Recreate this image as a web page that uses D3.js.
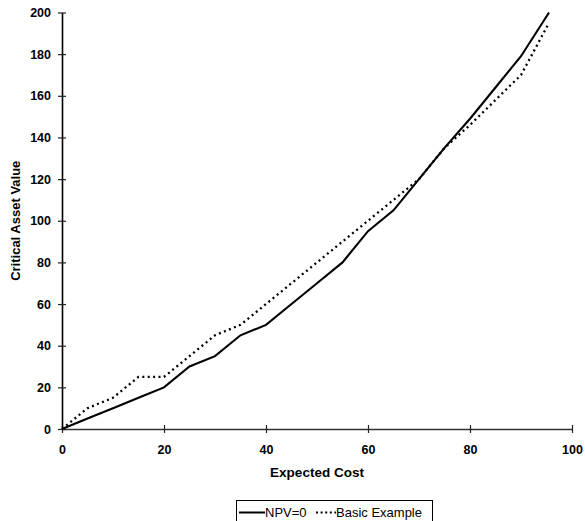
<!DOCTYPE html>
<html>
<head>
<meta charset="utf-8">
<script src="https://cdn.jsdelivr.net/npm/d3@7"></script>
<style>
  body { margin: 0; background: #fff; }
  svg { display: block; font-family: "Liberation Sans", Arial, sans-serif; }
  .tick text { font-size: 12.5px; font-weight: bold; fill: #000; }
</style>
</head>
<body>
<div id="chart"></div>
<script>
// expected cost (x) shared by both series
const expectedCost = [0, 5, 10, 15, 20, 25, 30, 35, 40, 45, 50, 55, 60, 65, 70, 75, 80, 85, 90, 95.5];
// critical asset value
const npvZero = [0, 5, 10, 15, 20, 30, 35, 45, 50, 60, 70, 80, 95, 105, 120, 135, 149, 164, 179, 200];
const basicExample = [0, 10, 15, 25, 25, 35, 45, 50, 60, 70, 80, 90, 100, 110, 120, 135, 146, 158, 170, 195];

const xTicks = [0, 20, 40, 60, 80, 100];
const yTicks = [0, 20, 40, 60, 80, 100, 120, 140, 160, 180, 200];

const seriesNames = ["NPV=0", "Basic Example"];

const width = 585;
const height = 521;

const svg = d3
  .select("#chart")
  .append("svg")
  .attr("width", width)
  .attr("height", height);

const xScale = d3.scaleLinear().domain([0, 100]).range([62, 572]);
const yScale = d3.scaleLinear().domain([0, 200]).range([429, 12.5]);

// axes, ticks cross the axis line
const xAxis = d3
  .axisBottom(xScale)
  .tickValues(xTicks)
  .tickSizeInner(4)
  .tickSizeOuter(0)
  .tickPadding(8);

const yAxis = d3
  .axisLeft(yScale)
  .tickValues(yTicks)
  .tickSizeInner(4)
  .tickSizeOuter(0)
  .tickPadding(7);

const gx = svg
  .append("g")
  .attr("transform", `translate(0, ${yScale(0)})`)
  .call(xAxis);

const gy = svg
  .append("g")
  .attr("transform", `translate(${xScale(0)}, 0)`)
  .call(yAxis);

// make ticks go both sides of the axis
gx.selectAll(".tick line").attr("y1", -4).attr("y2", 4).attr("stroke", "#222").attr("stroke-width", 1.2);
gy.selectAll(".tick line").attr("x1", -4).attr("x2", 4).attr("stroke", "#222").attr("stroke-width", 1.2);
gx.select(".domain").attr("stroke", "#333").attr("stroke-width", 1.6);
gy.select(".domain").attr("stroke", "#000").attr("stroke-width", 1.6);
gx.selectAll(".tick text").attr("dy", "1.0em");

// axis titles
svg
  .append("text")
  .attr("x", (xScale(0) + xScale(100)) / 2)
  .attr("y", 477)
  .attr("text-anchor", "middle")
  .style("font-size", "13.5px")
  .style("font-weight", "bold")
  .text("Expected Cost");

svg
  .append("text")
  .attr("transform", `translate(20, ${(yScale(0) + yScale(200)) / 2}) rotate(-90)`)
  .attr("text-anchor", "middle")
  .style("font-size", "13px")
  .style("font-weight", "bold")
  .text("Critical Asset Value");

// lines
const line = (values) =>
  d3
    .line()
    .x((d, i) => xScale(expectedCost[i]))
    .y((d) => yScale(d))(values);

svg
  .append("path")
  .attr("d", line(basicExample))
  .attr("fill", "none")
  .attr("stroke", "#000")
  .attr("stroke-width", 2.3)
  .attr("stroke-dasharray", "2,3.4");

svg
  .append("path")
  .attr("d", line(npvZero))
  .attr("fill", "none")
  .attr("stroke", "#000")
  .attr("stroke-width", 2.1);

// legend
const legend = svg.append("g");
legend
  .append("rect")
  .attr("x", 236.5)
  .attr("y", 500.5)
  .attr("width", 196)
  .attr("height", 30)
  .attr("fill", "none")
  .attr("stroke", "#000")
  .attr("stroke-width", 1);

legend
  .append("line")
  .attr("x1", 239).attr("x2", 265)
  .attr("y1", 512.5).attr("y2", 512.5)
  .attr("stroke", "#000")
  .attr("stroke-width", 2);

legend
  .append("text")
  .attr("x", 265)
  .attr("y", 517)
  .style("font-size", "13px")
  .text(seriesNames[0]);

legend
  .append("line")
  .attr("x1", 316).attr("x2", 336)
  .attr("y1", 512.5).attr("y2", 512.5)
  .attr("stroke", "#000")
  .attr("stroke-width", 2)
  .attr("stroke-dasharray", "2,2.6");

legend
  .append("text")
  .attr("x", 336)
  .attr("y", 517)
  .style("font-size", "13px")
  .text(seriesNames[1]);
</script>
</body>
</html>
